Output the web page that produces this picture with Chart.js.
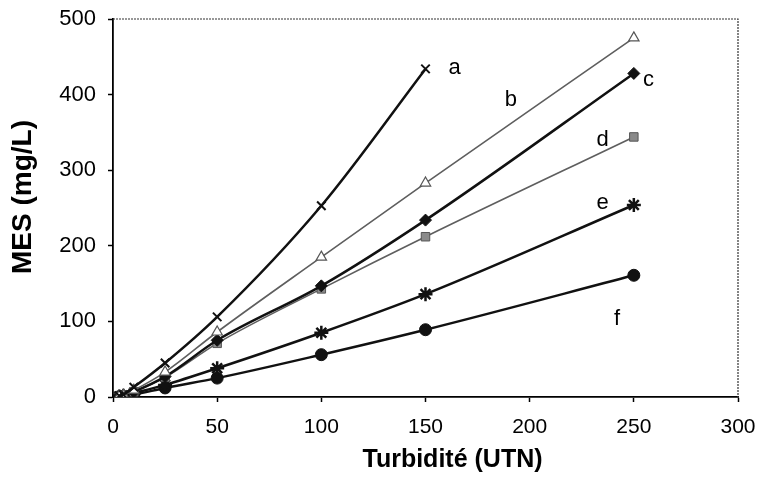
<!DOCTYPE html>
<html><head><meta charset="utf-8">
<script src="https://cdn.jsdelivr.net/npm/chart.js@4"></script>
<style>html,body{margin:0;padding:0;background:#fff}#wrap{width:758px;height:495px}</style>
</head><body><div id="wrap"><canvas id="c" width="758" height="495"></canvas></div>
<script>
const turbidityA = [3, 5, 10, 25, 50, 100, 150];
const turbidity = [3, 5, 10, 25, 50, 100, 150, 250];
const mesA = [1.5, 3, 13, 45, 106, 253, 434];
const mesB = [1, 2.5, 9, 33, 86, 185, 283, 475];
const mesC = [1, 2, 7, 27, 75, 147, 234, 428];
const mesD = [1, 2, 7, 26, 71, 143, 212, 344];
const mesE = [0.5, 1.5, 5, 16, 38, 85, 136, 254];
const mesF = [0.5, 1, 3, 12, 25, 56, 89, 161];
const seriesNames = ['a', 'b', 'c', 'd', 'e', 'f'];
const labelX = [164, 191, 257, 235, 235, 242];
const labelY = [435, 393, 419, 340, 257, 103];
const xTitle = 'Turbidité (UTN)';
const yTitle = 'MES (mg/L)';

function pts(xs, ys) { return ys.map((y, i) => ({ x: xs[i], y })); }

const black = '#111';
const grey = '#5e5e5e';
const datasets = [
  { label: 'a', data: pts(turbidityA, mesA), borderColor: black, borderWidth: 2.5, pointStyle: 'crossRot', pointRadius: 6, pointBorderWidth: 2, pointBorderColor: black, pointBackgroundColor: black },
  { label: 'b', data: pts(turbidity, mesB), borderColor: grey, borderWidth: 1.6, pointStyle: 'triangle', pointRadius: 6, pointBorderWidth: 1.2, pointBorderColor: '#555', pointBackgroundColor: '#fff' },
  { label: 'c', data: pts(turbidity, mesC), borderColor: black, borderWidth: 2.5, pointStyle: 'rectRot', pointRadius: 6, pointBorderWidth: 1, pointBorderColor: black, pointBackgroundColor: black },
  { label: 'd', data: pts(turbidity, mesD), borderColor: grey, borderWidth: 1.6, pointStyle: 'rect', pointRadius: 6, pointBorderWidth: 1, pointBorderColor: '#555', pointBackgroundColor: '#8a8a8a' },
  { label: 'e', data: pts(turbidity, mesE), borderColor: black, borderWidth: 2.5, pointStyle: 'star', pointRadius: 7, pointBorderWidth: 2.5, pointBorderColor: black, pointBackgroundColor: black },
  { label: 'f', data: pts(turbidity, mesF), borderColor: black, borderWidth: 2.5, pointStyle: 'circle', pointRadius: 6, pointBorderWidth: 1, pointBorderColor: black, pointBackgroundColor: black }
];
datasets.forEach(d => { d.showLine = true; d.fill = false; d.cubicInterpolationMode = 'monotone'; });

const decor = {
  id: 'decor',
  afterDraw(chart) {
    const { ctx, chartArea: a, scales: { x, y } } = chart;
    ctx.save();
    ctx.strokeStyle = '#333';
    ctx.lineWidth = 1.2;
    ctx.setLineDash([2, 1]);
    ctx.beginPath();
    ctx.moveTo(a.left, a.top); ctx.lineTo(a.right, a.top); ctx.lineTo(a.right, a.bottom);
    ctx.stroke();
    ctx.setLineDash([]);
    ctx.fillStyle = '#000';
    ctx.font = '22px "Liberation Sans", Arial, sans-serif';
    ctx.textAlign = 'center';
    ctx.textBaseline = 'middle';
    seriesNames.forEach((n, i) => {
      ctx.fillText(n, x.getPixelForValue(labelX[i]), y.getPixelForValue(labelY[i]));
    });
    ctx.font = 'bold 25px "Liberation Sans", Arial, sans-serif';
    ctx.fillText(xTitle, (a.left + a.right) / 2 + 27, 460);
    ctx.translate(23, 197);
    ctx.rotate(-Math.PI / 2);
    ctx.font = 'bold 28px "Liberation Sans", Arial, sans-serif';
    ctx.fillText(yTitle, 0, 0);
    ctx.restore();
  }
};

new Chart(document.getElementById('c'), {
  type: 'line',
  data: { datasets },
  options: {
    responsive: false,
    animation: false,
    devicePixelRatio: 1,
    layout: { padding: { top: 19, right: 20, left: 0, bottom: 0 } },
    plugins: { legend: { display: false }, tooltip: { enabled: false } },
    scales: {
      x: {
        type: 'linear', min: 0, max: 300,
        afterFit: s => { s.height = 98; s.paddingLeft = 0; s.paddingRight = 0; },
        ticks: { stepSize: 50, color: '#000', padding: 13, font: { family: '"Liberation Sans", Arial, sans-serif', size: 21 } },
        grid: { drawOnChartArea: false, tickLength: 5, color: '#000', tickWidth: 1.5 },
        border: { color: '#000', width: 1.8 }
      },
      y: {
        type: 'linear', min: 0, max: 500,
        afterFit: s => { s.width = 113; s.paddingTop = 0; s.paddingBottom = 0; },
        ticks: { stepSize: 100, color: '#000', padding: 12, font: { family: '"Liberation Sans", Arial, sans-serif', size: 22 } },
        grid: { drawOnChartArea: false, tickLength: 5, color: '#000', tickWidth: 1.5 },
        border: { color: '#000', width: 1.8 }
      }
    }
  },
  plugins: [decor]
});
</script></body></html>
